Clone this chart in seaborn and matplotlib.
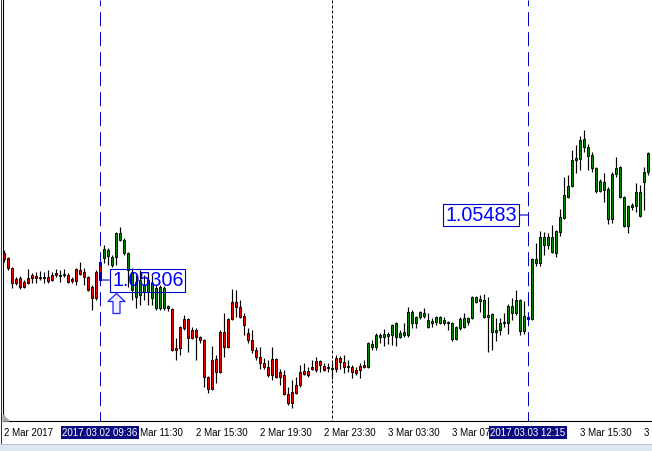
import numpy as np
import pandas as pd
import matplotlib
matplotlib.use("Agg")
import matplotlib.pyplot as plt
import matplotlib.transforms as mtransforms
from matplotlib.path import Path
from matplotlib.patches import Rectangle
from matplotlib.lines import Line2D
import seaborn as sns

# ---------------- data (EURUSD M15) ----------------
start_time = "2017-03-02 03:30"
bar_minutes = 15

open_ = [1.05380, 1.05366, 1.05339, 1.05309, 1.05311, 1.05301, 1.05311, 1.05320, 1.05317, 1.05314,
         1.05314, 1.05314, 1.05320, 1.05325, 1.05320, 1.05322, 1.05320, 1.05309, 1.05336, 1.05333,
         1.05328, 1.05314, 1.05287, 1.05328, 1.05355,
         1.05366, 1.05371, 1.05347, 1.05369, 1.05415, 1.05380, 1.05333, 1.05279, 1.05260, 1.05265,
         1.05273, 1.05273, 1.05257, 1.05230, 1.05230, 1.05230, 1.05230,
         1.05227, 1.05121, 1.05178, 1.05200, 1.05200, 1.05170, 1.05170, 1.05151, 1.05143, 1.05042,
         1.05088, 1.05091, 1.05164, 1.05164, 1.05200, 1.05246, 1.05246, 1.05232, 1.05208, 1.05162,
         1.05143, 1.05115, 1.05096, 1.05080, 1.05069, 1.05091, 1.05091, 1.05055, 1.05047, 1.04996,
         1.05001, 1.05020, 1.05055, 1.05058, 1.05058, 1.05069, 1.05085, 1.05085, 1.05072, 1.05069,
         1.05066, 1.05094, 1.05094, 1.05083, 1.05072, 1.05069, 1.05061, 1.05072, 1.05075,
         1.05069, 1.05124, 1.05124, 1.05151, 1.05151, 1.05154, 1.05156, 1.05151, 1.05151, 1.05156,
         1.05156, 1.05189, 1.05189, 1.05205, 1.05208, 1.05178, 1.05189, 1.05192, 1.05189, 1.05189,
         1.05189, 1.05145, 1.05145, 1.05175, 1.05178, 1.05192, 1.05203, 1.05246, 1.05249, 1.05205,
         1.05205, 1.05164, 1.05164, 1.05170, 1.05189, 1.05189, 1.05216, 1.05216, 1.05167, 1.05167,
         1.05200, 1.05200, 1.05352, 1.05352, 1.05401, 1.05401, 1.05382, 1.05380, 1.05437, 1.05475,
         1.05532, 1.05562, 1.05633, 1.05636, 1.05668, 1.05644, 1.05611, 1.05548, 1.05548, 1.05551,
         1.05472, 1.05472, 1.05595, 1.05532, 1.05453, 1.05453, 1.05505, 1.05508, 1.05480, 1.05573,
         1.05600]
high = [1.05388, 1.05369, 1.05341, 1.05314, 1.05317, 1.05306, 1.05336, 1.05325, 1.05328, 1.05331,
        1.05328, 1.05333, 1.05328, 1.05336, 1.05333, 1.05336, 1.05325, 1.05314, 1.05338, 1.05355,
        1.05339, 1.05316, 1.05292, 1.05333, 1.05366,
        1.05401, 1.05393, 1.05374, 1.05437, 1.05450, 1.05420, 1.05382, 1.05339, 1.05320, 1.05333,
        1.05320, 1.05328, 1.05320, 1.05292, 1.05292, 1.05290, 1.05238,
        1.05230, 1.05148, 1.05180, 1.05211, 1.05202, 1.05178, 1.05175, 1.05154, 1.05145, 1.05044,
        1.05126, 1.05102, 1.05170, 1.05216, 1.05203, 1.05282, 1.05279, 1.05252, 1.05216, 1.05175,
        1.05170, 1.05124, 1.05124, 1.05094, 1.05088, 1.05124, 1.05094, 1.05064, 1.05061, 1.05015,
        1.05034, 1.05042, 1.05075, 1.05080, 1.05069, 1.05088, 1.05096, 1.05088, 1.05080, 1.05080,
        1.05080, 1.05102, 1.05099, 1.05102, 1.05088, 1.05075, 1.05069, 1.05080, 1.05088,
        1.05137, 1.05143, 1.05162, 1.05162, 1.05173, 1.05164, 1.05186, 1.05192, 1.05170, 1.05189,
        1.05232, 1.05224, 1.05208, 1.05222, 1.05230, 1.05216, 1.05203, 1.05208, 1.05208, 1.05205,
        1.05194, 1.05192, 1.05181, 1.05205, 1.05216, 1.05205, 1.05262, 1.05262, 1.05265, 1.05268,
        1.05260, 1.05216, 1.05203, 1.05203, 1.05216, 1.05241, 1.05257, 1.05279, 1.05254, 1.05249,
        1.05211, 1.05365, 1.05407, 1.05439, 1.05437, 1.05434, 1.05456, 1.05442, 1.05499, 1.05587,
        1.05592, 1.05660, 1.05674, 1.05698, 1.05714, 1.05676, 1.05655, 1.05614, 1.05581, 1.05597,
        1.05559, 1.05600, 1.05641, 1.05616, 1.05535, 1.05510, 1.05516, 1.05570, 1.05565, 1.05614,
        1.05655]
low = [1.05355, 1.05333, 1.05284, 1.05292, 1.05282, 1.05284, 1.05295, 1.05298, 1.05298, 1.05306,
       1.05298, 1.05298, 1.05303, 1.05314, 1.05301, 1.05314, 1.05298, 1.05298, 1.05292, 1.05320,
       1.05292, 1.05276, 1.05224, 1.05252, 1.05301,
       1.05352, 1.05347, 1.05341, 1.05347, 1.05412, 1.05374, 1.05287, 1.05252, 1.05230, 1.05238,
       1.05252, 1.05238, 1.05238, 1.05224, 1.05224, 1.05224, 1.05222,
       1.05112, 1.05088, 1.05102, 1.05170, 1.05110, 1.05145, 1.05088, 1.05134, 1.05015, 1.04998,
       1.05006, 1.05025, 1.05053, 1.05096, 1.05122, 1.05198, 1.05205, 1.05203, 1.05156, 1.05134,
       1.05107, 1.05088, 1.05064, 1.05064, 1.05042, 1.05034, 1.05039, 1.05020, 1.04993, 1.04966,
       1.04958, 1.04996, 1.05015, 1.05047, 1.05042, 1.05061, 1.05055, 1.05055, 1.05058, 1.05055,
       1.05036, 1.05055, 1.05064, 1.05053, 1.05055, 1.05039, 1.05047, 1.05039, 1.05066,
       1.05066, 1.05115, 1.05115, 1.05134, 1.05126, 1.05132, 1.05129, 1.05126, 1.05148, 1.05151,
       1.05151, 1.05175, 1.05175, 1.05200, 1.05203, 1.05175, 1.05178, 1.05183, 1.05186, 1.05183,
       1.05170, 1.05140, 1.05143, 1.05170, 1.05175, 1.05183, 1.05200, 1.05243, 1.05219, 1.05203,
       1.05110, 1.05115, 1.05140, 1.05156, 1.05178, 1.05159, 1.05197, 1.05211, 1.05156, 1.05159,
       1.05197, 1.05197, 1.05344, 1.05344, 1.05374, 1.05390, 1.05380, 1.05369, 1.05426, 1.05472,
       1.05529, 1.05559, 1.05597, 1.05606, 1.05655, 1.05606, 1.05600, 1.05543, 1.05546, 1.05518,
       1.05459, 1.05461, 1.05587, 1.05529, 1.05450, 1.05434, 1.05497, 1.05491, 1.05478, 1.05497,
       1.05592]
close = [1.05363, 1.05339, 1.05298, 1.05298, 1.05287, 1.05287, 1.05298, 1.05311, 1.05311, 1.05311,
         1.05311, 1.05303, 1.05306, 1.05320, 1.05317, 1.05320, 1.05301, 1.05303, 1.05303, 1.05322,
         1.05314, 1.05279, 1.05257, 1.05257, 1.05306,
         1.05390, 1.05388, 1.05369, 1.05434, 1.05434, 1.05415, 1.05380, 1.05328, 1.05301, 1.05306,
         1.05292, 1.05306, 1.05298, 1.05284, 1.05287, 1.05284, 1.05235,
         1.05115, 1.05115, 1.05121, 1.05175, 1.05148, 1.05148, 1.05151, 1.05143, 1.05042, 1.05009,
         1.05009, 1.05055, 1.05055, 1.05124, 1.05124, 1.05200, 1.05232, 1.05205, 1.05183, 1.05143,
         1.05115, 1.05096, 1.05080, 1.05069, 1.05047, 1.05047, 1.05042, 1.05042, 1.04996, 1.04971,
         1.04971, 1.04998, 1.05020, 1.05050, 1.05047, 1.05064, 1.05061, 1.05075, 1.05061, 1.05066,
         1.05064, 1.05064, 1.05083, 1.05069, 1.05069, 1.05055, 1.05053, 1.05061, 1.05069,
         1.05134, 1.05132, 1.05156, 1.05156, 1.05159, 1.05159, 1.05183, 1.05189, 1.05162, 1.05164,
         1.05219, 1.05219, 1.05205, 1.05219, 1.05216, 1.05197, 1.05194, 1.05205, 1.05205, 1.05197,
         1.05192, 1.05189, 1.05178, 1.05200, 1.05203, 1.05203, 1.05260, 1.05260, 1.05254, 1.05252,
         1.05211, 1.05214, 1.05170, 1.05189, 1.05192, 1.05235, 1.05235, 1.05252, 1.05252, 1.05208,
         1.05205, 1.05363, 1.05363, 1.05423, 1.05423, 1.05423, 1.05423, 1.05439, 1.05478, 1.05537,
         1.05562, 1.05633, 1.05638, 1.05687, 1.05690, 1.05668, 1.05646, 1.05611, 1.05576, 1.05573,
         1.05554, 1.05595, 1.05611, 1.05614, 1.05532, 1.05508, 1.05510, 1.05546, 1.05546, 1.05600,
         1.05652]

# trend legs (index of first bar of each leg) and their colour
leg_start = [0, 25, 42, 91]
leg_trend = ["down", "up", "down", "up"]

# chart objects
vline_times = ["2017-03-02 09:36", "2017-03-03 12:15"]
vline_labels = ["2017.03.02 09:36", "2017.03.03 12:15"]
price_labels = [1.05306, 1.05483]
day_separator = "2017-03-03 00:00"
arrow_time = "2017-03-02 10:30"
arrow_price = 1.05243

tick_times = ["2017-03-02 03:30", "2017-03-02 07:30", "2017-03-02 11:30", "2017-03-02 15:30",
              "2017-03-02 19:30", "2017-03-02 23:30", "2017-03-03 03:30", "2017-03-03 07:30",
              "2017-03-03 11:30", "2017-03-03 15:30", "2017-03-03 19:30"]
tick_labels = ["2 Mar 2017", "2 Mar 07:30", "2 Mar 11:30", "2 Mar 15:30", "2 Mar 19:30",
               "2 Mar 23:30", "3 Mar 03:30", "3 Mar 07:30", "3 Mar 11:30", "3 Mar 15:30",
               "3 Mar 19:30"]

y_range = (1.049222, 1.060684)

# ---------------- build ----------------
n = len(open_)
df = pd.DataFrame({"open": open_, "high": high, "low": low, "close": close})
df["time"] = pd.date_range(start_time, periods=n, freq=f"{bar_minutes}min")
t0 = pd.Timestamp(start_time)


def bar_index(t):
    return int((pd.Timestamp(t) - t0) / pd.Timedelta(minutes=bar_minutes))


trend = []
for i in range(n):
    leg = max(j for j, s in enumerate(leg_start) if s <= i)
    trend.append(leg_trend[leg])
df["trend"] = trend
colors = {"down": "#f00000", "up": "#008a00"}

sns.set_style("white")
W, H = 652, 451
fig = plt.figure(figsize=(W / 100, H / 100), dpi=100)
fig.patch.set_facecolor("white")
ax = fig.add_axes([3 / W, 30 / H, 649 / W, 421 / H])
ax.set_facecolor("white")

x = np.arange(n)
ax.vlines(x, df["low"], df["high"], color="black", lw=0.85, zorder=2)
body_lo = np.minimum(df["open"], df["close"])
body_h = np.maximum(np.abs(df["close"] - df["open"]), 0.000012)
ax.bar(x, body_h, bottom=body_lo, width=0.66,
       color=[colors[t] for t in df["trend"]], edgecolor="black", linewidth=0.65, zorder=3)

ax.set_xlim(-0.25, 162.0)
ax.set_ylim(*y_range)
ax.set_yticks([])

LINE_BLUE = "#0000c8"
# vertical dashed lines (drawn from top to bottom so the dash phase matches)
for t in vline_times:
    k = bar_index(t)
    ax.plot([k, k], [y_range[1], y_range[0]], color=LINE_BLUE, lw=0.72,
            linestyle=(8.3, (14, 6)), zorder=5, solid_capstyle="butt")
ks = bar_index(day_separator)
ax.plot([ks, ks], [y_range[1], y_range[0]], color="black", lw=0.72,
        linestyle=(0, (3, 2)), zorder=5)

# price labels
label_font = ["Liberation Sans", "DejaVu Sans"]
for t, p, side in zip(vline_times, price_labels, ["right", "left"]):
    k = bar_index(t)
    off = 12 if side == "right" else -11
    ax.annotate(f"{p:.5f}", xy=(k, p), xytext=(off, 0), textcoords="offset pixels",
                ha="left" if side == "right" else "right", va="center",
                fontsize=14.2, color="#0000ff", family=label_font, zorder=6,
                bbox=dict(boxstyle="square,pad=0.1", fc="none", ec=LINE_BLUE, lw=0.8),
                arrowprops=dict(arrowstyle="-", color=LINE_BLUE, lw=0.8,
                                shrinkA=0, shrinkB=0))

# hollow up arrow (buy mark)
arrow_verts = [(0, 10), (8.5, 2), (3.5, 2), (3.5, -10), (-3.5, -10), (-3.5, 2), (-8.5, 2), (0, 10)]
arrow_path = Path(arrow_verts, [Path.MOVETO] + [Path.LINETO] * 6 + [Path.CLOSEPOLY])
ax.plot(bar_index(arrow_time) + 0.1, arrow_price, marker=arrow_path, markersize=14.4,
        mfc="#f2efff", mec="#2020ff", mew=0.9, zorder=7, linestyle="none")

# axes frame
for s in ["top", "right"]:
    ax.spines[s].set_visible(False)
for s in ["left", "bottom"]:
    ax.spines[s].set_color("black")
    ax.spines[s].set_linewidth(0.8)

tick_font = ["Liberation Sans", "DejaVu Sans"]
ax.set_xticks([bar_index(t) for t in tick_times])
ax.set_xticklabels(tick_labels, ha="left", fontsize=7, family=tick_font, color="black")
ax.tick_params(axis="x", direction="out", length=3, width=0.8, color="black", pad=2.2)

# highlighted time labels of the vertical lines
trans = mtransforms.blended_transform_factory(ax.transData, ax.transAxes)
for t, lab in zip(vline_times, vline_labels):
    ax.text(bar_index(t), -0.0275, lab, transform=trans, ha="center", va="center",
            fontsize=7, color="white", family=tick_font, zorder=10, clip_on=False,
            bbox=dict(boxstyle="square,pad=0.14", fc="#0a0a80", ec="none"))

# gray chart-shift triangle at the bottom-left corner
tri = plt.Polygon([(3 / W, 30 / H), (3 / W, 36 / H), (9 / W, 30 / H)], closed=True,
                  transform=fig.transFigure, color="#a8a8a8", zorder=1)
fig.patches.append(tri)

# window chrome: outer left line and bottom strip
fig.lines.append(Line2D([0.6 / W, 0.6 / W], [8 / H, 1], transform=fig.transFigure,
                        color="#303030", lw=0.72))
fig.patches.append(Rectangle((0, 0), 1, 7 / H, transform=fig.transFigure,
                             facecolor="#dde7f3", edgecolor="none"))
fig.lines.append(Line2D([0, 1], [7.5 / H, 7.5 / H], transform=fig.transFigure,
                        color="#b8c4d0", lw=0.72))

fig.savefig("out.png", dpi=100)
